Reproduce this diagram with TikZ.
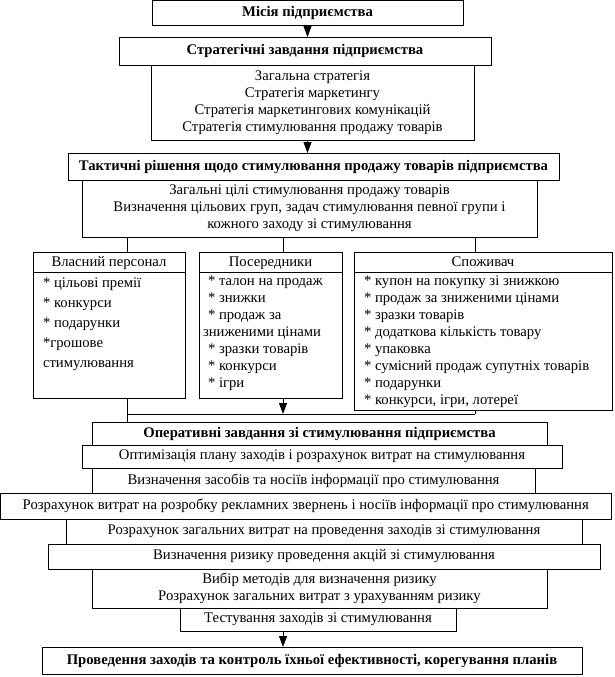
\documentclass[tikz,border=0pt]{standalone}
\usepackage{fontspec}
\setmainfont{Liberation Serif}
\usetikzlibrary{arrows.meta}
\newcommand\myfs{\fontsize{14.7}{17}\selectfont}
\tikzset{
  box/.style={draw, line width=0.9pt, outer sep=0pt, inner sep=0pt, anchor=north west, align=center, font=\myfs},
  bbox/.style={box, font=\myfs\bfseries},
  item/.style={inner sep=0pt, outer sep=0pt, anchor=base west, font=\myfs},
  hdr/.style={inner sep=0pt, outer sep=0pt, anchor=base, font=\myfs},
  arr/.style={-{Triangle[length=11pt,width=8pt]}, line width=0.9pt},
  ln/.style={line width=0.9pt}
}
\begin{document}
\begin{tikzpicture}[x=1pt,y=-1pt]
\fill[white] (0,0) rectangle (615,677);
\useasboundingbox (0,0) rectangle (615,677);
% upper part
\node[bbox, minimum width=311pt, minimum height=24.5pt] (m1) at (152,0.5) {Місія підприємства};
\node[bbox, minimum width=372pt, minimum height=28pt] (s1) at (119,37) {Стратегічні завдання підприємства};
\node[box, minimum width=323pt, minimum height=75pt] (s2) at (151,65) {Загальна стратегія\\Стратегія маркетингу\\Стратегія маркетингових комунікацій\\Стратегія стимулювання продажу товарів};
\node[bbox, minimum width=491pt, minimum height=27pt] (t1) at (68,153) {Тактичні рішення щодо стимулювання продажу товарів підприємства};
\node[box, minimum width=455pt, minimum height=57pt] (t2) at (82,180) {Загальні цілі стимулювання продажу товарів\\Визначення цільових груп, задач стимулювання певної групи і\\кожного заходу зі стимулювання};
% x positions of connectors
\coordinate (x1) at (127,0);
\coordinate (x2) at (283,0);
\coordinate (x3) at (475,0);
\coordinate (hy) at (0,414);
% category boxes
\node[box, minimum width=152pt, minimum height=146pt] (vp) at (33,252) {};
\node[box, minimum width=143pt, minimum height=146pt] (ps) at (199,252) {};
\node[box, minimum width=258pt, minimum height=158pt] (sp) at (354,252) {};
\foreach \b in {vp,ps,sp}{
  \draw[ln] ([yshift=-20pt]\b.north west) -- ([yshift=-20pt]\b.north east);
}
\node[hdr] (vph) at ([yshift=-14.5pt]vp.north) {Власний персонал};
\node[hdr] (psh) at ([yshift=-14.5pt]ps.north) {Посередники};
\node[hdr] (sph) at ([yshift=-14.5pt]sp.north) {Споживач};
\foreach \t [count=\i] in {{* цільові премії},{* конкурси},{* подарунки},{*грошове},{стимулювання}}{
  \node[item] (vpi\i) at (43,{287+20*(\i-1)}) {\t};
}
\foreach \t/\xx [count=\i] in {{* талон на продаж}/208,{* знижки}/208,{* продаж за}/208,{зниженими цінами}/203,{* зразки товарів}/208,{* конкурси}/208,{* ігри}/208}{
  \node[item] (psi\i) at (\xx,{285+17*(\i-1)}) {\t};
}
\foreach \t [count=\i] in {{* купон на покупку зі знижкою},{* продаж за зниженими цінами},{* зразки товарів},{* додаткова кількість товару},{* упаковка},{* сумісний продаж супутніх товарів},{* подарунки},{* конкурси, ігри, лотереї}}{
  \node[item] (spi\i) at (364,{285+17*(\i-1)}) {\t};
}
% lower part
\node[bbox, minimum width=455pt, minimum height=23pt] (op) at (92,422) {Оперативні завдання зі стимулювання підприємства};
\node[box, minimum width=480pt, minimum height=23pt] (o2) at (82,445) {Оптимізація плану заходів і розрахунок витрат на стимулювання};
\node[box, minimum width=443pt, minimum height=25pt] (o3) at (92,468) {Визначення засобів та носіїв інформації про стимулювання};
\node[box, minimum width=610.5pt, minimum height=26pt] (o4) at (0.5,493) {Розрахунок витрат на розробку рекламних звернень і носіїв інформації про стимулювання};
\node[box, minimum width=516pt, minimum height=25pt] (o5) at (66,519) {Розрахунок загальних витрат на проведення заходів зі стимулювання};
\node[box, minimum width=552pt, minimum height=25pt] (o6) at (48,544) {Визначення ризику проведення акцій зі стимулювання};
\node[box, minimum width=455pt, minimum height=39pt] (o7) at (92,569) {Вибір методів для визначення ризику\\Розрахунок загальних витрат з урахуванням ризику};
\node[box, minimum width=276pt, minimum height=23pt] (o8) at (180,608) {Тестування заходів зі стимулювання};
\node[bbox, minimum width=540pt, minimum height=27pt] (pr) at (42,647) {Проведення заходів та контроль їхньої ефективності, корегування планів};
% connectors
\draw[arr] (m1.south) -- (m1.south |- s1.north);
\draw[arr] (s2.south -| m1.south) -- (t1.north -| m1.south);
\draw[ln] (t2.south -| x1) -- (vp.north -| x1);
\draw[ln] (t2.south -| x2) -- (ps.north -| x2);
\draw[ln] (t2.south -| x3) -- (sp.north -| x3);
\draw[ln] (vp.south -| x1) -- (op.north -| x1);
\draw[ln] (x1 |- hy) -- (x3 |- hy);
\draw[ln] (sp.south -| x3) -- (x3 |- hy);
\draw[arr] (ps.south -| x2) -- (x2 |- hy);
\draw[arr] (o8.south -| x2) -- (pr.north -| x2);
\end{tikzpicture}
\end{document}
